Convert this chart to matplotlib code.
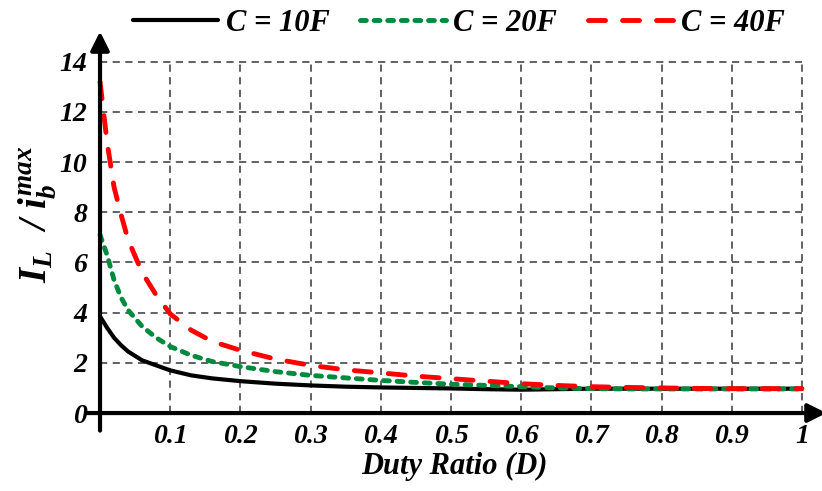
import numpy as np
import matplotlib
matplotlib.use('Agg')
import matplotlib.pyplot as plt

plt.rcParams['font.family'] = 'Liberation Serif'
plt.rcParams['font.weight'] = 'bold'
plt.rcParams['font.style'] = 'italic'
plt.rcParams['axes.labelweight'] = 'bold'
plt.rcParams['mathtext.fontset'] = 'custom'
plt.rcParams['mathtext.it'] = 'Liberation Serif:bold:italic'
plt.rcParams['mathtext.rm'] = 'Liberation Serif:bold:italic'

# duty ratio samples
duty = [0, 0.01, 0.02, 0.03, 0.04, 0.06, 0.08, 0.1, 0.13, 0.16, 0.2, 0.25, 0.3,
        0.35, 0.4, 0.45, 0.5, 0.55, 0.6, 0.65, 0.7, 0.75, 0.8, 0.85, 0.9, 0.95, 1.0]

# I_L / i_b^max for each capacitance
c10 = [3.85, 3.4, 3.0, 2.7, 2.45, 2.1, 1.9, 1.7, 1.5, 1.38, 1.27, 1.17, 1.1,
       1.05, 1.02, 1.0, 0.98, 0.95, 0.93, 0.95, 0.97, 0.97, 0.97, 0.97, 0.97, 0.97, 0.97]
c20 = [7.1, 6.3, 5.3, 4.6, 4.1, 3.45, 3.0, 2.65, 2.3, 2.05, 1.85, 1.65, 1.5,
       1.4, 1.3, 1.22, 1.15, 1.1, 1.05, 1.0, 0.97, 0.96, 0.96, 0.96, 0.96, 0.96, 0.96]
c40 = [13.2, 10.8, 9.0, 7.9, 6.9, 5.6, 4.7, 3.95, 3.3, 2.85, 2.5, 2.15, 1.9,
       1.72, 1.6, 1.47, 1.37, 1.27, 1.17, 1.1, 1.05, 1.02, 1.0, 0.98, 0.97, 0.97, 0.97]

xticks = [0.1, 0.2, 0.3, 0.4, 0.5, 0.6, 0.7, 0.8, 0.9, 1.0]
xticklabels = ['0.1', '0.2', '0.3', '0.4', '0.5', '0.6', '0.7', '0.8', '0.9', '1']
yticks = [0, 2, 4, 6, 8, 10, 12, 14]

green = '#008a3e'
red = '#ff0000'

fig = plt.figure(figsize=(8.22, 4.91), dpi=100)
ax = fig.add_axes([0.1046, 0.123, 0.8966, 0.8077])
ax.set_xlim(-0.02, 1.03)
ax.set_ylim(-0.7, 15.1)
for s in ax.spines.values():
    s.set_visible(False)

# dashed grid, bounded to the data box
ax.vlines(xticks, 0, 14, colors='#555555', linestyles=(0, (4, 3)), lw=1.3, zorder=1)
ax.hlines(yticks[1:], 0, 1.0, colors='#555555', linestyles=(0, (4, 3)), lw=1.3, zorder=1)

# curves
l1, = ax.plot(duty, c10, color='black', lw=3, solid_capstyle='round', zorder=3)
l2, = ax.plot(duty, c20, color=green, lw=3.5, dashes=(1.2, 1.6),
              dash_capstyle='round', zorder=4)
l3, = ax.plot(duty, c40, color=red, lw=3.5, dashes=(3.5, 3.5),
              dash_capstyle='round', zorder=5)

# axes with arrows
arrow = dict(arrowstyle='-|>', lw=3, color='black', mutation_scale=28,
             shrinkA=0, shrinkB=0)
ax.annotate('', xy=(1.035, 0), xytext=(-0.02, 0), arrowprops=arrow,
            annotation_clip=False, zorder=6)
ax.annotate('', xy=(0, 15.2), xytext=(0, -0.7), arrowprops=arrow,
            annotation_clip=False, zorder=6)

ax.set_xticks(xticks)
ax.set_xticklabels(xticklabels)
ax.set_yticks(yticks)
ax.tick_params(length=0, labelsize=20)
ax.tick_params(axis='x', pad=-5)
ax.tick_params(axis='y', pad=-1)

ax.set_xlabel('Duty Ratio (D)', fontsize=22, labelpad=2)
ax.set_ylabel(r'$I_L\ \ /\ i_b^{max}$', fontsize=28)
ax.yaxis.set_label_coords(-0.037, 0.545)

fig.legend([l1, l2, l3], ['C = 10F', 'C = 20F', 'C = 40F'], ncol=3,
           loc='center', bbox_to_anchor=(0.558, 0.952), frameon=False,
           fontsize=22, handlelength=2.8, handletextpad=0.25, columnspacing=1.0)

fig.savefig('out.png', dpi=100)
